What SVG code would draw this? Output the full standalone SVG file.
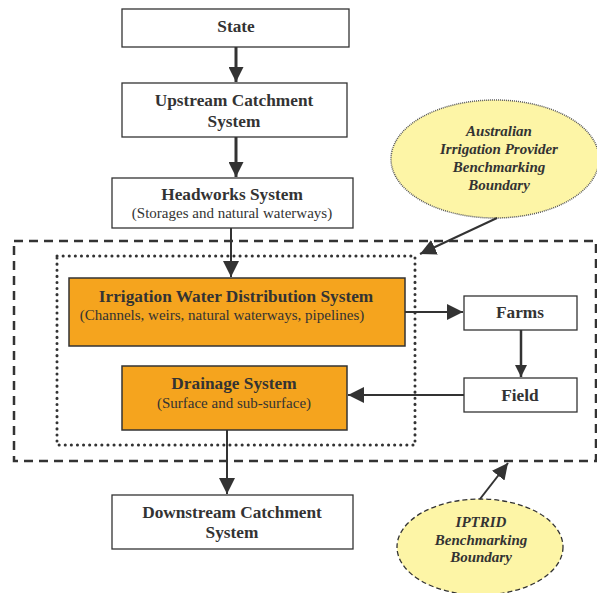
<svg xmlns="http://www.w3.org/2000/svg" width="597" height="593" viewBox="0 0 597 593">
<style>
.box{fill:#fff;stroke:#333;stroke-width:1.3}
.org{fill:#F5A41E;stroke:#333;stroke-width:1.5}
text{font-family:'Liberation Serif','DejaVu Serif',serif;fill:#333;text-anchor:middle}
.t{font-weight:bold;font-size:17.3px}
.s{font-size:15px}
.i{font-weight:bold;font-style:italic;font-size:15px}
.c{fill:none;stroke:#333}
</style>
<defs>
<marker id="a" viewBox="0 0 10 10" refX="10" refY="5" markerWidth="5" markerHeight="5" markerUnits="strokeWidth" orient="auto"><path d="M0,0L10,5L0,10z" fill="#333"/></marker>
<marker id="b" viewBox="0 0 10 10" refX="10" refY="5" markerWidth="8" markerHeight="8" markerUnits="strokeWidth" orient="auto"><path d="M0,0L10,5L0,10z" fill="#333"/></marker>
</defs>
<g id="outer-boundary"><rect x="14" y="241" width="582" height="220" fill="none" stroke="#333" stroke-width="2.5" stroke-dasharray="9,6"/></g>
<g id="inner-boundary"><rect x="57" y="256" width="358" height="189" fill="none" stroke="#333" stroke-width="3" stroke-dasharray="0.1,6" stroke-linecap="round"/></g>
<g id="state"><rect class="box" x="122" y="9" width="227" height="38"/><text class="t" x="236" y="32">State</text></g>
<g id="upstream"><rect class="box" x="122" y="83" width="225" height="54"/><text class="t" x="234" y="106">Upstream Catchment</text><text class="t" x="234" y="127">System</text></g>
<g id="headworks"><rect class="box" x="112" y="178" width="241" height="50"/><text class="t" x="232" y="200">Headworks System</text><text class="s" x="232" y="218">(Storages and natural waterways)</text></g>
<g id="iwds"><rect class="org" x="69" y="278" width="336" height="68"/><text class="t" x="236" y="302">Irrigation Water Distribution System</text><text class="s" x="222" y="320">(Channels, weirs, natural waterways, pipelines)</text></g>
<g id="drainage"><rect class="org" x="122" y="366" width="225" height="64"/><text class="t" x="234" y="389">Drainage System</text><text class="s" x="234" y="408">(Surface and sub-surface)</text></g>
<g id="farms"><rect class="box" x="464" y="296" width="113" height="34"/><text class="t" x="520" y="318">Farms</text></g>
<g id="field"><rect class="box" x="464" y="378" width="113" height="34"/><text class="t" x="520" y="401">Field</text></g>
<g id="downstream"><rect class="box" x="112" y="495" width="241" height="54"/><text class="t" x="232" y="518">Downstream Catchment</text><text class="t" x="232" y="538">System</text></g>
<g id="aip-boundary"><ellipse cx="495" cy="159" rx="104" ry="59" fill="#FDF5A6" stroke="#555" stroke-width="1.5" stroke-dasharray="1,1"/><text class="i" x="499" y="136">Australian</text><text class="i" x="499" y="154">Irrigation Provider</text><text class="i" x="499" y="172">Benchmarking</text><text class="i" x="499" y="190">Boundary</text></g>
<g id="iptrid-boundary"><ellipse cx="480" cy="547" rx="83" ry="48" fill="#FDF5A6" stroke="#333" stroke-width="1.3" stroke-dasharray="5,3"/><text class="i" x="481" y="527">IPTRID</text><text class="i" x="481" y="545">Benchmarking</text><text class="i" x="481" y="562">Boundary</text></g>
<g id="connectors">
<line class="c" stroke-width="3" x1="236" y1="47" x2="236" y2="82" marker-end="url(#a)"/>
<line class="c" stroke-width="3" x1="236" y1="137" x2="236" y2="177" marker-end="url(#a)"/>
<line class="c" stroke-width="2" x1="231" y1="228" x2="231" y2="277" marker-end="url(#b)"/>
<line class="c" stroke-width="2" x1="405" y1="312" x2="463" y2="312" marker-end="url(#b)"/>
<line class="c" stroke-width="2.5" x1="521" y1="330" x2="521" y2="377" marker-end="url(#a)"/>
<line class="c" stroke-width="2" x1="464" y1="395" x2="348" y2="395" marker-end="url(#b)"/>
<line class="c" stroke-width="2" x1="227" y1="430" x2="227" y2="494" marker-end="url(#b)"/>
<line class="c" stroke-width="2" x1="497" y1="218" x2="420" y2="254" marker-end="url(#b)"/>
<line class="c" stroke-width="2" x1="480" y1="499" x2="508" y2="463" marker-end="url(#b)"/>
</g>
</svg>
